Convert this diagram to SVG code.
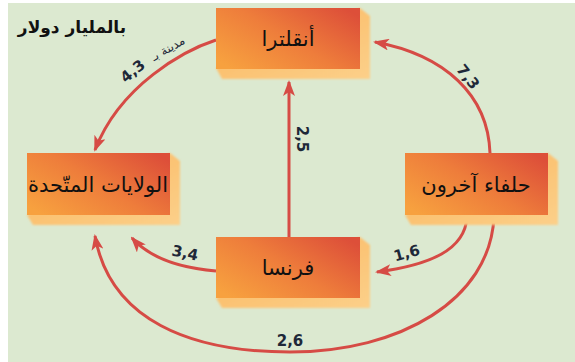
<svg xmlns="http://www.w3.org/2000/svg" width="575" height="362" viewBox="0 0 575 362">
<defs>
<linearGradient id="boxg" x1="0" y1="0.85" x2="1" y2="0.15">
<stop offset="0" stop-color="#f7a13f"/>
<stop offset="0.5" stop-color="#ee7d3b"/>
<stop offset="1" stop-color="#dd4f39"/>
</linearGradient>
<linearGradient id="shg" x1="0" y1="0" x2="1" y2="1">
<stop offset="0" stop-color="#fbb55c"/>
<stop offset="1" stop-color="#fcd08a"/>
</linearGradient>
<filter id="soft" x="-10%" y="-10%" width="120%" height="130%">
<feGaussianBlur stdDeviation="1.2"/>
</filter>
<marker id="ah" viewBox="0 0 16 12" refX="14" refY="6" markerWidth="16" markerHeight="12" markerUnits="userSpaceOnUse" orient="auto">
<path d="M0,0 L16,6 L0,12 L4,6 Z" fill="#d64b45"/>
</marker>
</defs>
<style>
.bg{fill:#dce9d0}
.box{fill:url(#boxg)}
.sh{fill:url(#shg);filter:url(#soft)}
.lbl{font-family:"DejaVu Sans",sans-serif;font-size:21px;fill:#111;text-anchor:middle}
.num{font-family:"DejaVu Sans",sans-serif;font-weight:bold;font-size:15px;fill:#1e2838;text-anchor:middle}
.small{font-family:"DejaVu Sans",sans-serif;font-size:12px;fill:#1e2838;text-anchor:middle}
.title{font-family:"DejaVu Sans",sans-serif;font-weight:bold;font-size:17px;fill:#111;text-anchor:middle}
.ln{fill:none;stroke:#d64b45;stroke-width:3;marker-end:url(#ah)}
</style>
<rect width="575" height="362" fill="#ffffff"/>
<rect class="bg" x="8" y="3" width="567" height="359"/>
<text class="title" x="72" y="33">بالمليار دولار</text>

<g id="connectors">
<path class="ln" d="M216,40 C185,50 120,85 95,150"/>
<path class="ln" d="M289,237 L289,82"/>
<path class="ln" d="M490,153 C488,95 445,55 375,42"/>
<path class="ln" d="M467,217 C465,250 430,265 377,272"/>
<path class="ln" d="M216,271 C180,268 150,258 132,238"/>
<path class="ln" d="M494,217 C490,300 400,352 290,352 C190,352 110,320 95,236"/>
<text class="num" transform="translate(136,75) rotate(-40)">4,3</text>
<text class="small" transform="translate(170,52) rotate(-30)">مدينة بـ</text>
<text class="num" transform="translate(297,139) rotate(90)">2,5</text>
<text class="num" transform="translate(464,80) rotate(52)">7,3</text>
<text class="num" transform="translate(408,258) rotate(-15)">1,6</text>
<text class="num" transform="translate(184,258) rotate(12)">3,4</text>
<text class="num" x="290" y="346">2,6</text>
</g>

<g id="england">
<path class="sh" d="M360,8 L370,16 L370,79 L222,79 L216,68 Z"/>
<rect class="box" x="216" y="8" width="144" height="61"/>
<text class="lbl" x="288" y="46">أنقلترا</text>
</g>
<g id="usa">
<path class="sh" d="M170,153 L180,161 L180,225 L33,225 L27,215 Z"/>
<rect class="box" x="27" y="153" width="143" height="62"/>
<text class="lbl" x="98" y="192">الولايات المتّحدة</text>
</g>
<g id="allies">
<path class="sh" d="M548,153 L558,161 L558,225 L411,225 L405,215 Z"/>
<rect class="box" x="405" y="153" width="143" height="62"/>
<text class="lbl" x="476" y="192">حلفاء آخرون</text>
</g>
<g id="france">
<path class="sh" d="M360,237 L370,245 L370,308 L222,308 L216,298 Z"/>
<rect class="box" x="216" y="237" width="144" height="61"/>
<text class="lbl" x="288" y="275">فرنسا</text>
</g>
</svg>
